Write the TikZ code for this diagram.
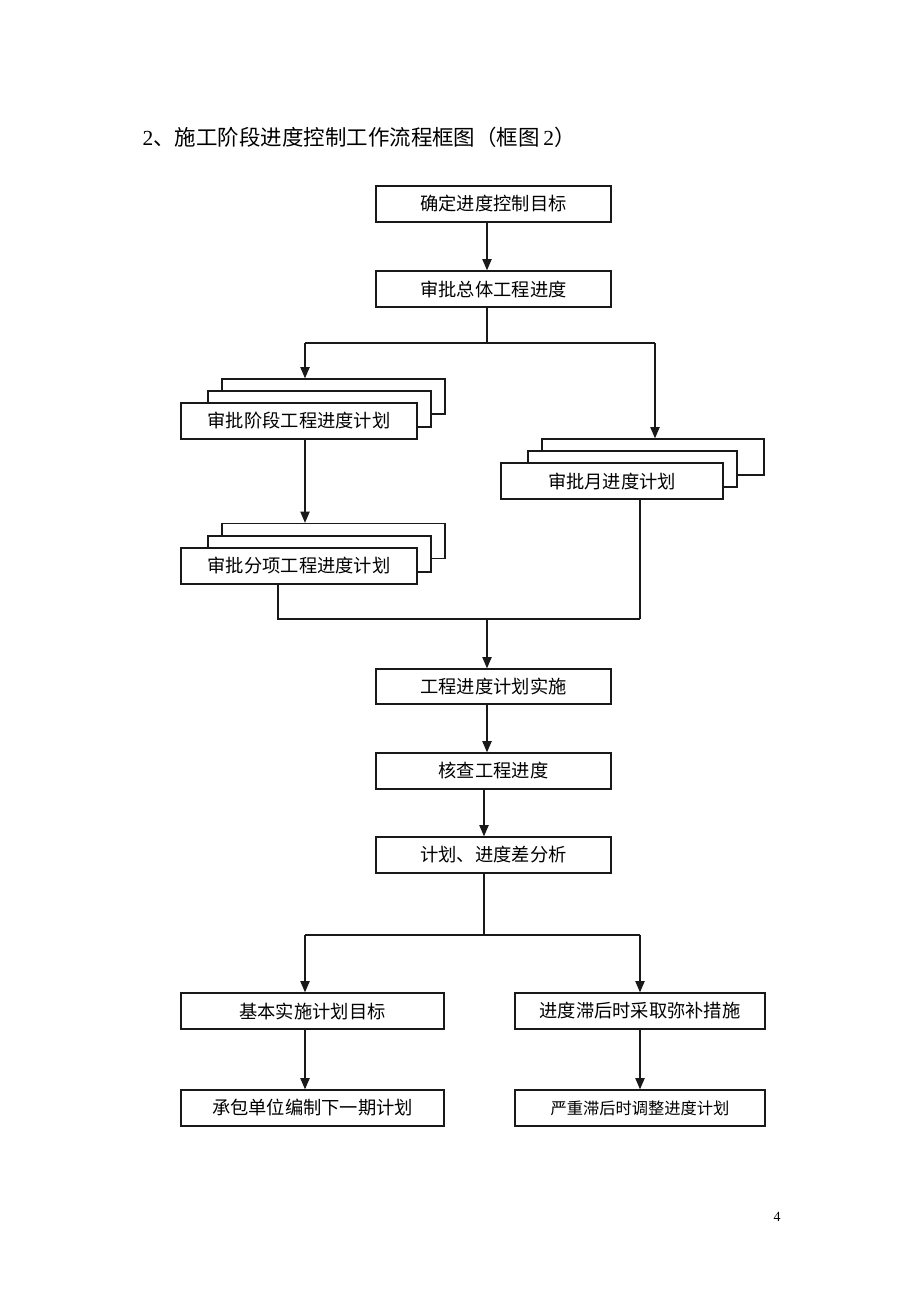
\documentclass[tikz,border=0pt]{standalone}
\usepackage{fontspec}
\setmainfont{Liberation Serif}
\newfontfamily\cjk{Noto Sans CJK SC}
\usetikzlibrary{arrows.meta}

\def\boxfont{\cjk\fontsize{13.7pt}{16pt}\selectfont}
\colorlet{box edge}{black!90}
\tikzset{flowbox/.style={draw=box edge, fill=white, line width=1pt, inner sep=0pt,
        minimum height=27pt, font=\boxfont},
    wide/.style={minimum width=176.25pt},
    link/.style={draw=box edge, line width=1pt},
    arr/.style={link, -{Triangle[width=7pt,length=8.5pt]}}}

\begin{document}
\begin{tikzpicture}[x=0.75pt,y=-0.75pt]
    \fill[white] (0,0) rectangle (920,1302);

    \node[anchor=west, font=\cjk\fontsize{16.1pt}{19pt}\selectfont] (title) at (138,137)
        {{\rmfamily 2}、施工阶段进度控制工作流程框图（框图\,{\rmfamily 2}）};

    % main column
    \node[flowbox, wide] (goal) at (493.5,204) {确定进度控制目标};
    \node[flowbox, wide] (total) at (493.5,289) {审批总体工程进度};

    % stacked plans, back to front
    \node[flowbox, minimum width=167.25pt, minimum height=26.25pt] (stage3) at (333.5,396.5) {};
    \node[flowbox, minimum width=167.25pt] (stage2) at (319.5,409) {};
    \node[flowbox, minimum width=177pt] (stage1) at (299,421) {审批阶段工程进度计划};

    \node[flowbox, minimum width=167.25pt, minimum height=26.25pt] (item3) at (333.5,541) {};
    \node[flowbox, minimum width=167.25pt] (item2) at (319.5,554) {};
    \node[flowbox, minimum width=177pt] (item1) at (299,566) {审批分项工程进度计划};

    \node[flowbox, minimum width=166.5pt] (month3) at (653,457) {};
    \node[flowbox, minimum width=156.75pt] (month2) at (632.5,469) {};
    \node[flowbox, minimum width=166.5pt] (month1) at (612,481) {审批月进度计划};

    \node[flowbox, wide, minimum height=26.25pt] (run) at (493.5,686.5) {工程进度计划实施};
    \node[flowbox, wide] (check) at (493.5,771) {核查工程进度};
    \node[flowbox, wide] (diff) at (493.5,855) {计划、进度差分析};

    \node[flowbox, minimum width=197.25pt] (basic) at (312.5,1011) {基本实施计划目标};
    \node[flowbox, minimum width=187.5pt] (remedy) at (640,1011) {进度滞后时采取弥补措施};
    \node[flowbox, minimum width=197.25pt] (next) at (312.5,1108) {承包单位编制下一期计划};
    \node[flowbox, minimum width=187.5pt, font=\cjk\fontsize{12.2pt}{14pt}\selectfont] (adjust)
        at (640,1108) {严重滞后时调整进度计划};

    \node[font=\fontsize{10.5pt}{12pt}\selectfont] (page) at (777,1217) {4};

    % junction points
    \coordinate (spine) at (487,0);
    \coordinate (spinelow) at (484,0);
    \coordinate (tl) at (305,343);
    \coordinate (tr) at (655,343);
    \coordinate (ml) at (278,619);
    \coordinate (mr) at (640,619);
    \coordinate (bl) at (305,935);
    \coordinate (br) at (640,935);

    \draw[arr] (goal.south -| spine) -- (total.north -| spine);
    \draw[link] (total.south -| spine) -- (spine |- tl);
    \draw[link] (tl) -- (tr);
    \draw[arr] (tl) -- (stage3.north -| tl);
    \draw[arr] (tr) -- (month3.north -| tr);
    \draw[arr] (stage1.south -| tl) -- (item3.north -| tl);

    \draw[link] (item1.south -| ml) -- (ml) -- (mr);
    \draw[link] (month1.south -| mr) -- (mr);
    \draw[arr] (spine |- mr) -- (run.north -| spine);
    \draw[arr] (run.south -| spine) -- (check.north -| spine);
    \draw[arr] (check.south -| spinelow) -- (diff.north -| spinelow);

    \draw[link] (diff.south -| spinelow) -- (spinelow |- bl);
    \draw[link] (bl) -- (br);
    \draw[arr] (bl) -- (basic.north -| bl);
    \draw[arr] (br) -- (remedy.north);
    \draw[arr] (basic.south -| bl) -- (next.north -| bl);
    \draw[arr] (remedy.south) -- (adjust.north);
\end{tikzpicture}
\end{document}
